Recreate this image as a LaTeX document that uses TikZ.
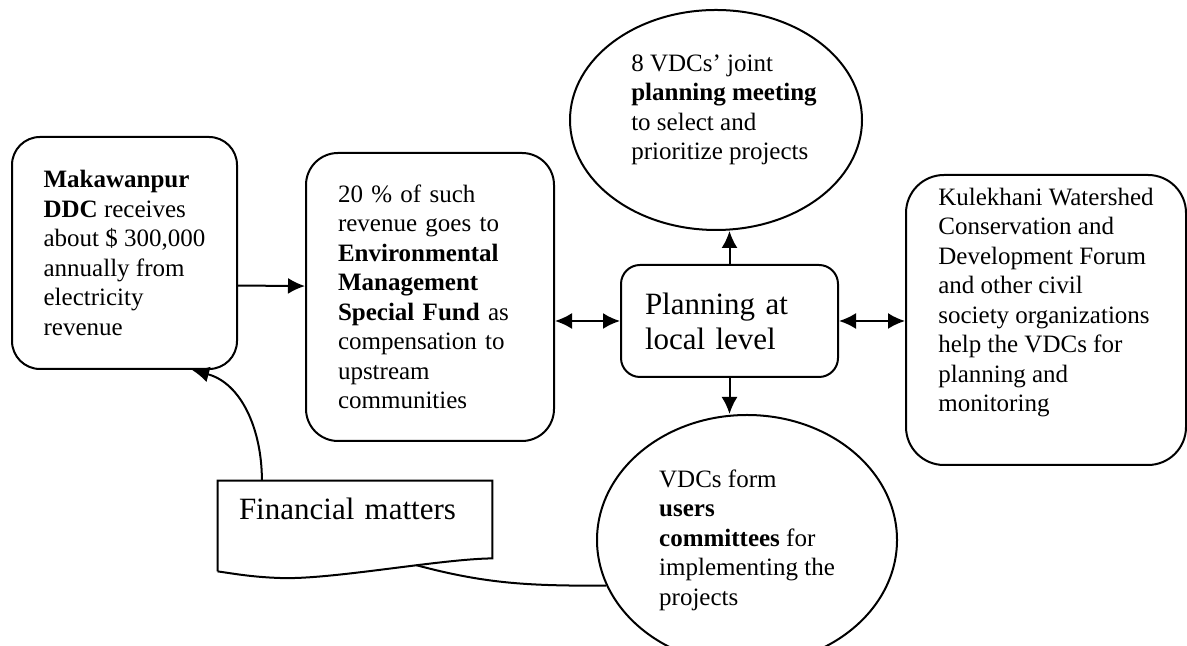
\documentclass[tikz,border=0pt]{standalone}
\usepackage{fontspec}
\setmainfont{Liberation Serif}
\usepackage{tikz}
\usetikzlibrary{arrows.meta,shapes.geometric}

\begin{document}
\begin{tikzpicture}[x=0.5pt, y=0.5pt,
    >={Latex[length=8.5pt, width=8pt]},
    roundbox/.style={draw, line width=1pt, align=left,
      font=\fontsize{12.5}{14.75}\selectfont},
    bubble/.style={draw, ellipse, line width=1pt, align=left, inner sep=0pt,
      font=\fontsize{12.5}{14.75}\selectfont}]
    \useasboundingbox (0,0) rectangle (1187,646);
    \node[roundbox, rounded corners=14pt, minimum width=112.5pt, minimum height=116pt] (ddc) at (124.5,393)
      {\textbf{Makawanpur}\\ \textbf{DDC} receives\\ about \$ 300,000\\ annually from\\ electricity\\ revenue};
    \node[roundbox, rounded corners=16pt, minimum width=124pt, minimum height=144pt, text width=92pt] (fund) at (430,349)
      {20 \% of such\\ revenue goes to\\ \textbf{Environmental}\\ \textbf{Management}\\ \textbf{Special Fund} as\\ compensation to\\ upstream\\ communities};
    \node[roundbox, rounded corners=9.5pt, minimum width=108.5pt, minimum height=56pt, text width=84.5pt,
      font=\fontsize{15.5}{17.5}\selectfont] (plan) at (729.5,325)
      {Planning at\\ local level};
    \node[bubble, minimum width=146pt, minimum height=110pt, text depth=12.7pt] (meet) at (716,526)
      {\hspace*{8pt}8 VDCs' joint\\ \hspace*{8pt}\textbf{planning meeting}\\ \hspace*{8pt}to select and\\ \hspace*{8pt}prioritize projects};
    \node[bubble, minimum width=150pt, minimum height=125pt] (users) at (747,106)
      {VDCs form\\ \textbf{users}\\ \textbf{committees} for\\ implementing the\\ projects};
    \node[roundbox, rounded corners=19pt, minimum width=140pt, minimum height=145pt, text depth=20pt] (forum) at (1046,326)
      {Kulekhani Watershed\\ Conservation and\\ Development Forum\\ and other civil\\ society organizations\\ help the VDCs for\\ planning and\\ monitoring};
    \node[minimum width=137pt, minimum height=45pt, text width=116pt, text height=11pt, text depth=17pt,
      font=\fontsize{15.5}{17.5}\selectfont] (fin) at (355,120) {Financial matters};
    % document outline with wavy bottom
    \draw[line width=1pt] (fin.south west) |- (fin.north east) -- ([yshift=6.5pt]fin.south east)
      .. controls (440,87) and (330,66) .. (280,68) coordinate[pos=0.37] (finw)
      .. controls (250,69) and (230,73) .. (fin.south west);
    \path[->, line width=1pt]
      (ddc.-16.8) edge (fund.175.4)
      (plan.north) edge (plan.north |- meet.south)
      (plan.south) edge (plan.south |- users.north)
      (fin.154) edge[out=90, in=-15] (ddc.-60.5)
      (finw) edge[-, out=-15, in=180] (users.198)
      (plan.west -| fund.east) edge[<->] (plan.west)
      (plan.east) edge[<->] (plan.east -| forum.west);
\end{tikzpicture}
\end{document}
